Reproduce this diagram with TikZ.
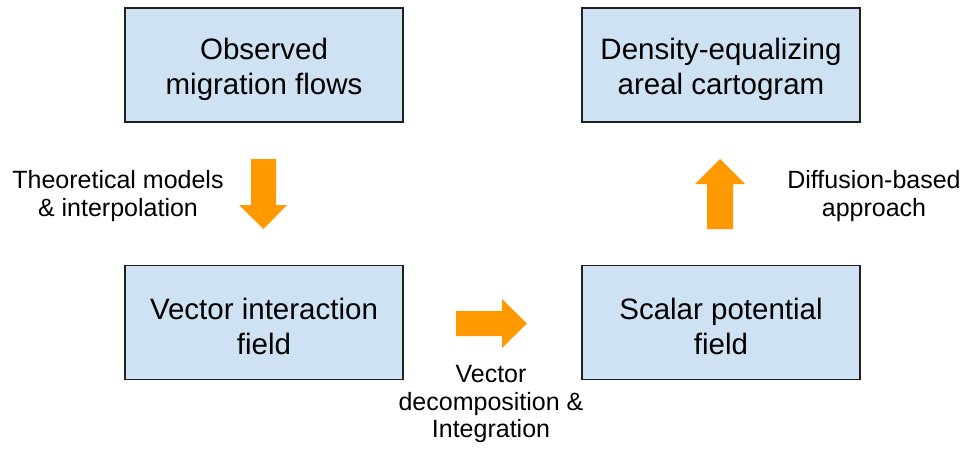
\documentclass[tikz,border=0pt]{standalone}
\usepackage{fontspec}
\setmainfont{Liberation Sans}
\definecolor{boxfill}{HTML}{CFE2F3}
\definecolor{boxline}{HTML}{202020}
\definecolor{arrowor}{HTML}{FF9900}
\begin{document}
\begin{tikzpicture}[x=1pt,y=-1pt,
  blockbox/.style={draw=boxline, line width=1.3pt, fill=boxfill, minimum width=278pt, minimum height=114pt, inner sep=0pt},
  boxtext/.style={align=center, inner sep=0pt, font=\fontsize{29.5}{35}\selectfont},
  steplabel/.style={align=center, inner sep=0pt, font=\fontsize{25}{27.5}\selectfont},
  blockarrow/.style={fill=arrowor, draw=none}]
\useasboundingbox (0,0) rectangle (969,448);
\node[blockbox] (obs) at (264,65) {};
\node[blockbox] (dens) at (721,65) {};
\node[blockbox] (vec) at (264,322.5) {};
\node[blockbox] (scal) at (721,322.5) {};
\node[boxtext] (tobs) at ([yshift=-4pt]obs.center) {Observed\\migration flows};
\node[boxtext] (tdens) at ([yshift=-4pt]dens.center) {Density-equalizing\\areal cartogram};
\node[boxtext] (tvec) at ([yshift=-4pt]vec.center) {Vector interaction\\field};
\node[boxtext] (tscal) at ([yshift=-4pt]scal.center) {Scalar potential\\field};
% arrows
\fill[blockarrow] (251,159) -- (276,159) -- (276,205) -- (287,205) -- (263.5,229) -- (239,205) -- (251,205) -- cycle;
\fill[blockarrow] (707,229) -- (733,229) -- (733,184) -- (745,184) -- (720,159) -- (695,184) -- (707,184) -- cycle;
\fill[blockarrow] (456,311) -- (502,311) -- (502,299) -- (527,323.5) -- (502,348) -- (502,336) -- (456,336) -- cycle;
% labels
\node[steplabel] (l1) at (118,196) {Theoretical models\\\& interpolation};
\node[steplabel] (l2) at (874,196) {Diffusion-based\\approach};
\node[steplabel] (l3) at (491,404) {Vector\\decomposition \&\\Integration};
\end{tikzpicture}
\end{document}
